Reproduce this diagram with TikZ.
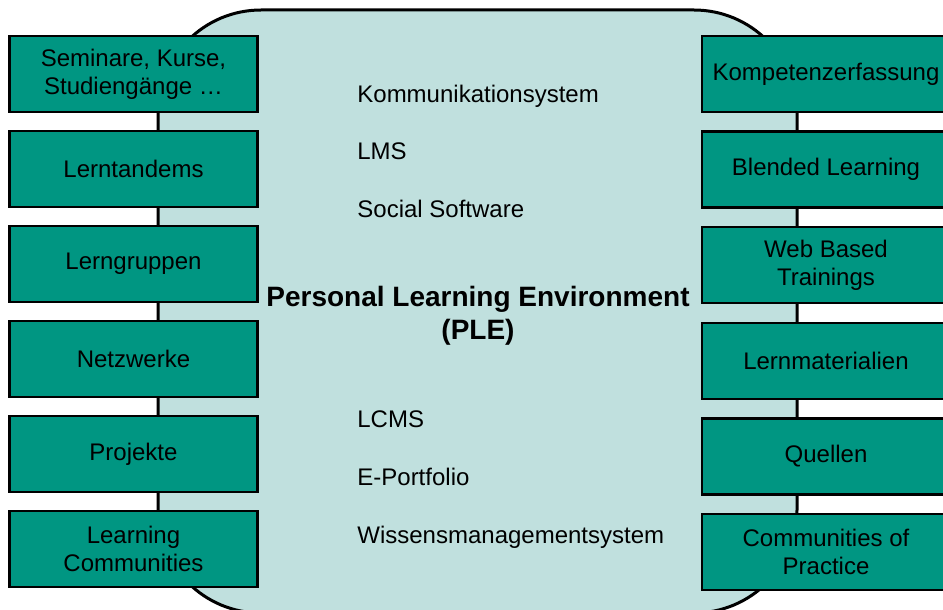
\documentclass[tikz,border=0pt]{standalone}
\usepackage{fontspec}
\setmainfont{Liberation Sans}
\usepackage{tikz}
\definecolor{pleteal}{RGB}{0,150,130}
\definecolor{plelight}{RGB}{192,224,222}
\tikzstyle{env} = [draw, line width=1.5pt, fill=plelight, rounded corners=51.5pt]
\tikzstyle{offer} = [draw, line width=1.2pt, fill=pleteal, rectangle, 
minimum height=38pt, minimum width=124pt, align=center, font=\fontsize{12}{14}\selectfont]
\tikzstyle{tool} = [anchor=west, inner sep=0pt, text height=9pt, text depth=2.5pt, font=\fontsize{12}{14}\selectfont]

\begin{document}
\begin{tikzpicture}[x=0.5pt,y=-0.5pt,node distance=47.5pt]
      \clip (0,0) rectangle (943,610);
      \draw [env] (158,10) rectangle (797,613);
      % left column
      \node [offer] (sem) at (133.5,74) {Seminare, Kurse,\\Studiengänge …};
      \node [offer] (tandem) [below of=sem] {Lerntandems};
      \node [offer] (gruppe) [below of=tandem] {Lerngruppen};
      \node [offer] (netz) [below of=gruppe] {Netzwerke};
      \node [offer] (proj) [below of=netz] {Projekte};
      \node [offer] (lcom) [below of=proj] {Learning\\Communities};
      % right column
      \node [offer] (komp) at (826,74) {Kompetenzerfassung};
      \node [offer] (blend) [below of=komp, node distance=47.8pt] {Blended Learning};
      \node [offer] (wbt) [below of=blend, node distance=47.8pt] {Web Based\\Trainings};
      \node [offer] (mat) [below of=wbt, node distance=47.8pt] {Lernmaterialien};
      \node [offer] (quell) [below of=mat, node distance=47.8pt] {Quellen};
      \node [offer] (cop) [below of=quell, node distance=47.8pt] {Communities of\\Practice};
      % tools inside the PLE
      \node [tool] (kom) at (357,96) {Kommunikationsystem};
      \node [tool] (lms) at (357,153) {LMS};
      \node [tool] (soc) at (357,211) {Social Software};
      \node [align=center, font=\fontsize{14}{16.5}\selectfont\bfseries] (ple) at (478,316) {Personal Learning Environment\\(PLE)};
      \node [tool] (lcms) at (357,421) {LCMS};
      \node [tool] (port) at (357,479) {E-Portfolio};
      \node [tool] (wms) at (357,537) {Wissensmanagementsystem};
  \end{tikzpicture}
\end{document}
